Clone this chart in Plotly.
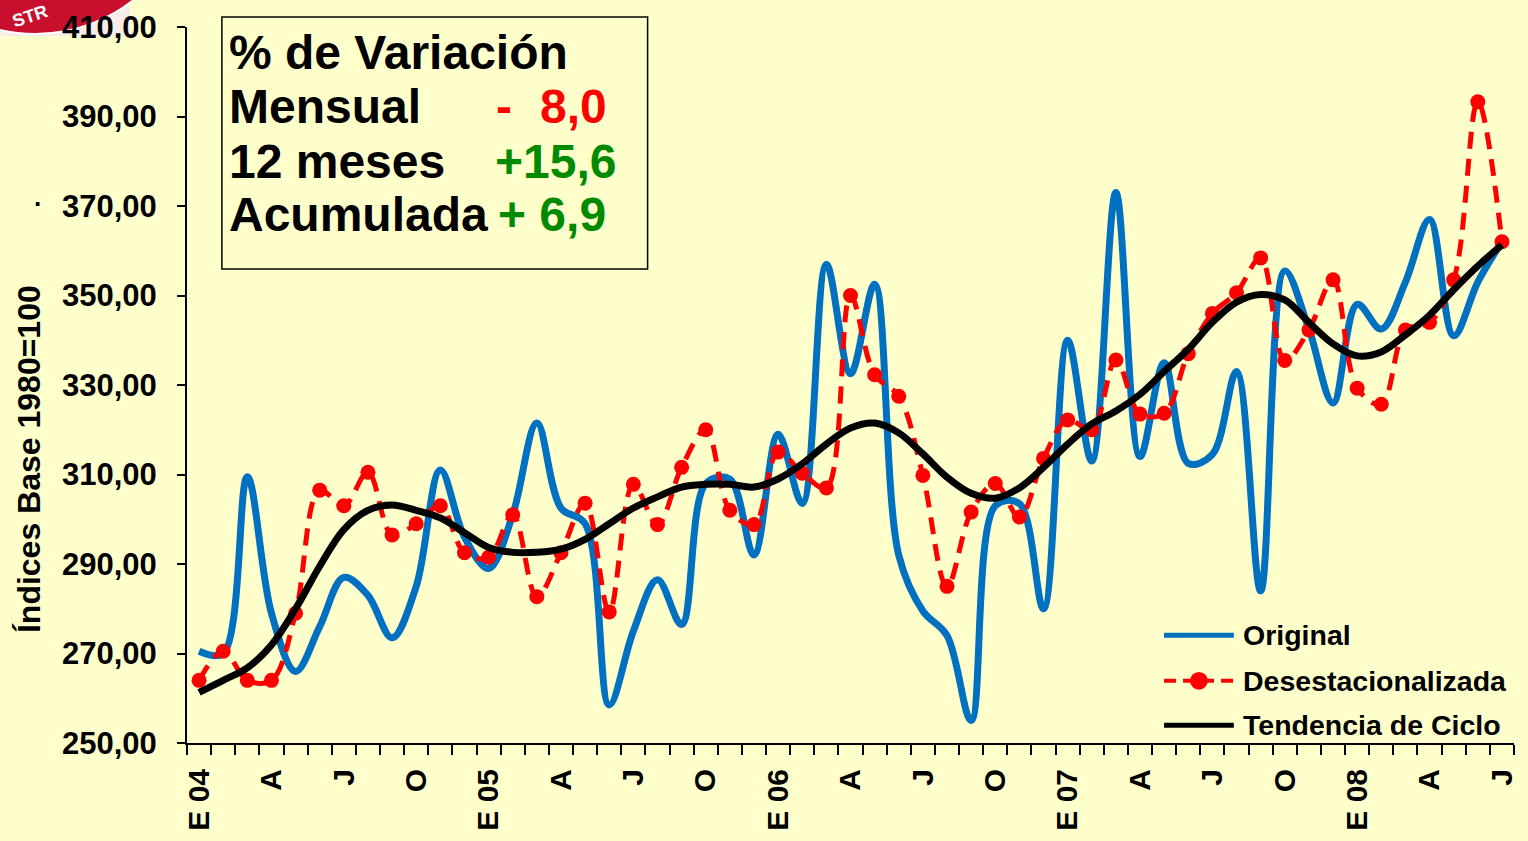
import plotly.graph_objects as go

# ---------------- data ----------------
months = list(range(55))  # Jan 2004 .. Jul 2008
tick_pos = [0, 3, 6, 9, 12, 15, 18, 21, 24, 27, 30, 33, 36, 39, 42, 45, 48, 51, 54]
tick_txt = ["E 04", "A", "J", "O", "E 05", "A", "J", "O", "E 06", "A", "J", "O",
            "E 07", "A", "J", "O", "E 08", "A", "J"]

original = [270.5, 270, 309.5, 279, 266, 276, 287, 283, 273.5, 285,
            311, 296, 289, 301, 321.5, 302.5, 299, 258.5, 275, 286.5,
            276.5, 308, 309, 292, 319, 303.5, 357, 332.5, 352.5, 292,
            279.5, 274, 255, 303, 303.5, 280, 340, 313, 373, 314,
            335, 312.5, 314.5, 333, 284, 355.5, 342.5, 326, 348, 342.5,
            353, 367, 341, 353, 362]

desest = [264, 270.5, 264, 264, 279, 306.5, 303, 310.5, 296.5, 299,
          303, 292.5, 291.5, 301, 282.7, 292.5, 303.6, 279.3, 307.8, 298.8,
          311.6, 320, 302, 298.8, 315, 310.3, 307, 350, 332.3, 327.5,
          309.8, 285, 301.6, 308, 300.5, 313.6, 322.2, 320, 335.6, 323.5,
          323.7, 337, 346, 350.6, 358.4, 335.5, 342.3, 353.5, 329.3, 325.7,
          342.3, 344, 353.5, 393.3, 362]

tendencia = [261.3, 264, 266.8, 271.9, 280, 289.5, 297.7, 302, 303.2, 302,
             300.3, 297, 293.7, 292.6, 292.6, 293.3, 295.5, 299, 302.5, 305,
             307.2, 307.8, 307.8, 307.2, 309, 312.4, 316.8, 320.4, 321.5, 319.3,
             314.6, 309.4, 305.8, 304.7, 307, 311.6, 316.8, 321.3, 324.2, 327.9,
             333, 338, 344, 348.5, 350.2, 349, 344, 339.2, 336.5, 337.4,
             341.2, 345.6, 351.3, 356.6, 361.3]

y_ticks = [250, 270, 290, 310, 330, 350, 370, 390, 410]
y_tick_txt = ["250,00", "270,00", "290,00", "310,00", "330,00", "350,00",
              "370,00", "390,00", "410,00"]

series_names = ["Original", "Desestacionalizada", "Tendencia de Ciclo"]

box_labels = ["Mensual", "12 meses", "Acumulada"]
box_values = ["8,0", "+15,6", "+\u00a06,9"]

# ---------------- style ----------------
BG = "#FFFFCC"
BLUE = "#0070C0"
RED = "#FF0000"
GREEN = "#008A00"
FONT = "Liberation Sans, Arial, sans-serif"

W, H = 1528, 841
L, R, T, B = 187, 10, 21, 95
PW, PH = W - L - R, H - T - B


def px(x):
    return (x - L) / PW


def py(y):
    return (H - B - y) / PH


fig = go.Figure()
fig.add_trace(go.Scatter(x=months, y=original, name=series_names[0], mode="lines",
                         line=dict(color=BLUE, width=7, shape="spline", smoothing=1.0),
                         showlegend=False))
fig.add_trace(go.Scatter(x=months, y=desest, name=series_names[1], mode="lines+markers",
                         line=dict(color=RED, width=5, dash="17px,10px", shape="spline", smoothing=1.0),
                         marker=dict(color=RED, size=15),
                         showlegend=False))
fig.add_trace(go.Scatter(x=months, y=tendencia, name=series_names[2], mode="lines",
                         line=dict(color="black", width=7, shape="spline", smoothing=1.0),
                         showlegend=False))

shapes = []
annotations = []

# variation box
shapes.append(dict(type="rect", xref="paper", yref="paper",
                   x0=px(222), x1=px(649), y0=py(266), y1=py(11),
                   line=dict(color="black", width=1.5), fillcolor="rgba(0,0,0,0)"))
BS = 48
bfont = dict(family=FONT, size=BS, color="black", weight="bold")
annotations.append(dict(text="% de Variación", xref="paper", yref="paper",
                        x=px(227), y=py(47), xanchor="left", yanchor="middle",
                        showarrow=False, font=bfont))
for lab, yy in zip(box_labels, [101, 157, 211]):
    annotations.append(dict(text=lab, xref="paper", yref="paper",
                            x=px(227), y=py(yy), xanchor="left", yanchor="middle",
                            showarrow=False, font=bfont))
annotations.append(dict(text="-", xref="paper", yref="paper", x=px(495), y=py(101),
                        xanchor="left", yanchor="middle", showarrow=False,
                        font=dict(family=FONT, size=BS, color=RED, weight="bold")))
annotations.append(dict(text=box_values[0], xref="paper", yref="paper", x=px(610), y=py(101),
                        xanchor="right", yanchor="middle", showarrow=False,
                        font=dict(family=FONT, size=BS, color=RED, weight="bold")))
annotations.append(dict(text=box_values[1], xref="paper", yref="paper", x=px(494), y=py(157),
                        xanchor="left", yanchor="middle", showarrow=False,
                        font=dict(family=FONT, size=BS, color=GREEN, weight="bold")))
annotations.append(dict(text=box_values[2], xref="paper", yref="paper", x=px(497), y=py(211),
                        xanchor="left", yanchor="middle", showarrow=False,
                        font=dict(family=FONT, size=BS, color=GREEN, weight="bold")))

# manual legend
lfont = dict(family=FONT, size=28.5, color="black", weight="bold")
leg_y = [637, 683, 728]
shapes.append(dict(type="line", xref="paper", yref="paper", x0=px(1167), x1=px(1237),
                   y0=py(leg_y[0]), y1=py(leg_y[0]), line=dict(color=BLUE, width=5)))
shapes.append(dict(type="line", xref="paper", yref="paper", x0=px(1167), x1=px(1237),
                   y0=py(leg_y[1]), y1=py(leg_y[1]), line=dict(color=RED, width=4, dash="12px,7px")))
shapes.append(dict(type="circle", xref="paper", yref="paper", x0=px(1193), x1=px(1211),
                   y0=py(leg_y[1] + 9), y1=py(leg_y[1] - 9), fillcolor=RED, line=dict(color=RED, width=0)))
shapes.append(dict(type="line", xref="paper", yref="paper", x0=px(1167), x1=px(1237),
                   y0=py(leg_y[2]), y1=py(leg_y[2]), line=dict(color="black", width=5)))
for name, yy in zip(series_names, leg_y):
    annotations.append(dict(text=name, xref="paper", yref="paper", x=px(1244), y=py(yy),
                            xanchor="left", yanchor="middle", showarrow=False, font=lfont))

# y-axis title
annotations.append(dict(text="Índices Base 1980=100", xref="paper", yref="paper",
                        x=px(28), y=py(458), xanchor="center", yanchor="middle",
                        textangle=-90, showarrow=False,
                        font=dict(family=FONT, size=32, color="black", weight="bold")))
annotations.append(dict(text="·", xref="paper", yref="paper", x=px(38), y=py(200),
                        xanchor="center", yanchor="middle", showarrow=False,
                        font=dict(family=FONT, size=26, color="black", weight="bold")))

# cropped logo in top-left corner
shapes.append(dict(type="rect", xref="paper", yref="paper", x0=px(0), x1=px(130),
                   y0=py(30), y1=py(0), fillcolor="#F7ECE8", line=dict(width=0), layer="below"))
shapes.append(dict(type="circle", xref="paper", yref="paper", x0=px(-123), x1=px(193),
                   y0=py(28), y1=py(-288), fillcolor="#C8102E", line=dict(color="white", width=2),
                   layer="below"))
annotations.append(dict(text="STR", xref="paper", yref="paper", x=px(30), y=py(10),
                        xanchor="center", yanchor="middle", textangle=-18, showarrow=False,
                        font=dict(family=FONT, size=18, color="white", weight="bold")))

fig.update_layout(
    width=W, height=H,
    margin=dict(l=L, r=R, t=T, b=B, pad=0),
    paper_bgcolor=BG, plot_bgcolor=BG,
    shapes=shapes, annotations=annotations,
    showlegend=False,
    xaxis=dict(range=[-0.5, 54.5], tickmode="array", tickvals=tick_pos, ticktext=tick_txt,
               tickangle=-90, ticks="", showgrid=False, zeroline=False,
               showline=True, linecolor="black", linewidth=2,
               ticklabelstandoff=12,
               tickfont=dict(family=FONT, size=30, color="black", weight="bold"),
               minor=dict(ticks="outside", ticklen=10, tickwidth=1.5, tickcolor="black",
                          tickmode="linear", tick0=-0.5, dtick=1, showgrid=False)),
    yaxis=dict(range=[250, 410], tickmode="array", tickvals=y_ticks, ticktext=y_tick_txt,
               ticks="outside", ticklen=8, tickwidth=1.5, tickcolor="black",
               showgrid=False, zeroline=False, showline=True, linecolor="black", linewidth=2,
               ticklabelstandoff=14,
               tickfont=dict(family=FONT, size=31, color="black", weight="bold")),
)

fig.write_html(
    "out.html",
    config={"displayModeBar": False},
    post_script="document.body.style.margin='0';document.body.style.padding='0';"
                "document.body.style.overflow='hidden';"
                "document.body.style.background='#FFFFCC';",
)
